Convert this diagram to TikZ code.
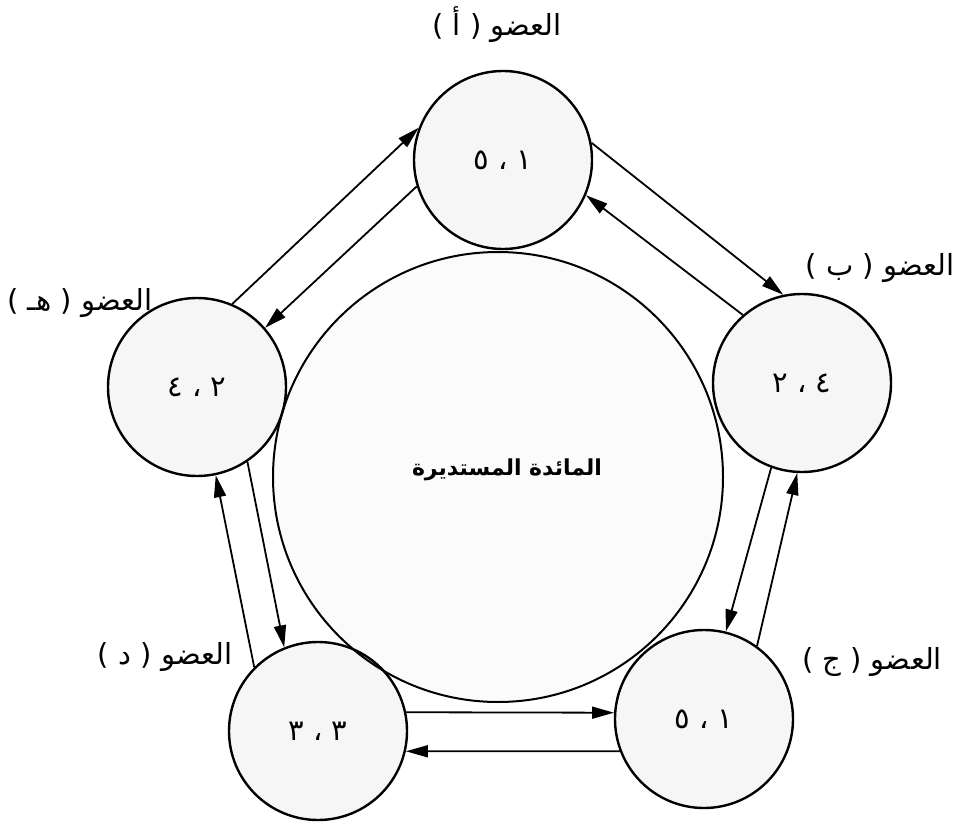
\documentclass[tikz,border=0pt]{standalone}
\usepackage{fontspec}
\usetikzlibrary{arrows.meta}
\newfontfamily\arabicfont[Script=Arabic]{DejaVu Sans}
\TeXXeTstate=1
\begin{document}
\begin{tikzpicture}[x=1pt,y=-1pt,
  member/.style={circle, draw, line width=2.4pt, minimum size=178pt, inner sep=0pt,
    fill=black, fill opacity=0.035, text opacity=1, draw opacity=1,
    font=\arabicfont\fontsize{29}{32}\selectfont},
  roundtable/.style={circle, draw, line width=2pt, minimum size=450pt, inner sep=0pt,
    fill=black, fill opacity=0.015, text opacity=1, draw opacity=1},
  lbl/.style={font=\arabicfont\fontsize{29}{32}\selectfont, inner sep=0pt},
  title/.style={font=\arabicfont\bfseries\fontsize{22}{26}\selectfont, inner sep=0pt},
  conn/.style={line width=1.8pt, -{Triangle[length=22pt,width=12pt]}}
]
\useasboundingbox (0,0) rectangle (956,824);

\node[roundtable] (O) at (498,477) {};
\node[title] (T) at (507,470) {\beginR المائدة المستديرة\endR};

\node[member] (A) at (503,160) {\beginR ١ ، ٥\endR};
\node[member] (B) at (802,383) {\beginR ٤ ، ٢\endR};
\node[member] (C) at (704,719) {\beginR ١ ، ٥\endR};
\node[member] (D) at (318,731) {\beginR ٣ ، ٣\endR};
\node[member] (E) at (197,387) {\beginR ٢ ، ٤\endR};

\node[lbl] (LA) at (497,25) {\beginR العضو ( أ )\endR};
\node[lbl] (LB) at (880,268) {\beginR العضو ( ب )\endR};
\node[lbl] (LC) at (872,662) {\beginR العضو ( ج )\endR};
\node[lbl] (LD) at (165,657) {\beginR العضو ( د )\endR};
\node[lbl] (LE) at (80,303) {\beginR العضو ( هـ )\endR};

% A - B
\draw[conn] (A.11) -- (B.102);
\draw[conn] (B.131) -- (A.-23);
% A - E
\draw[conn] (E.67) -- (A.159);
\draw[conn] (A.-163) -- (E.41);
% E - D
\draw[conn] (D.135) -- (E.-78);
\draw[conn] (E.-56) -- (D.112);
% D - C
\draw[conn] (D.12) -- (C.176);
\draw[conn] (C.-159) -- (D.-13);
% C - B
\draw[conn] (B.-110) -- (C.76);
\draw[conn] (C.54) -- (B.-93);
\end{tikzpicture}
\end{document}
